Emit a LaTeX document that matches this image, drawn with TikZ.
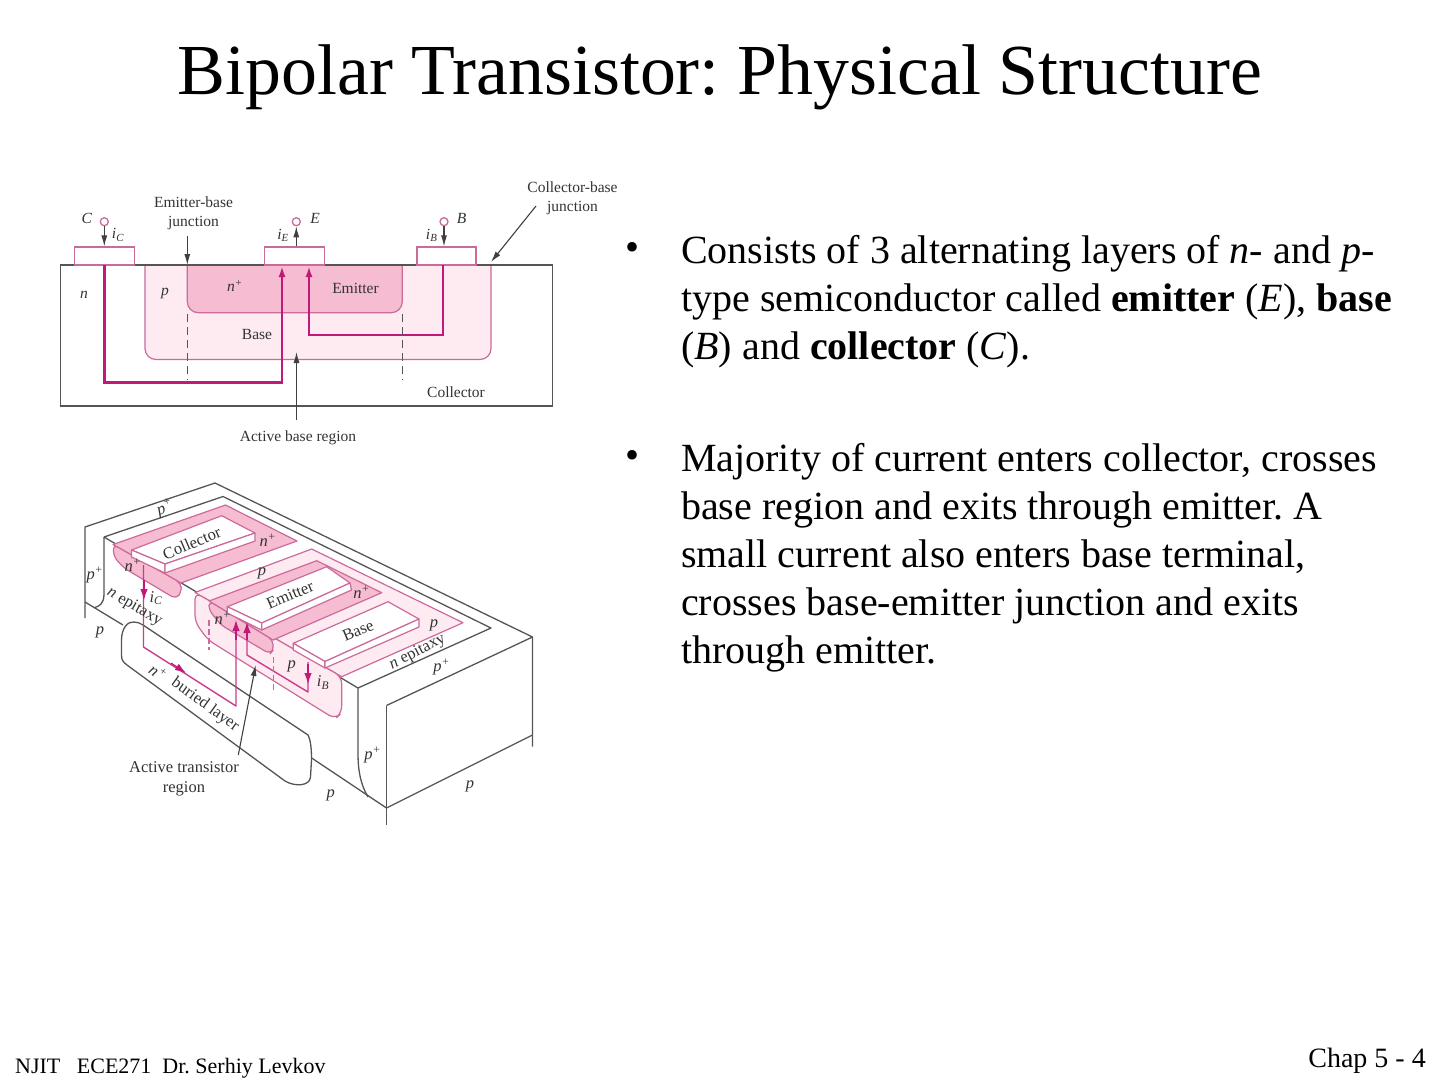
\documentclass[tikz,border=0pt]{standalone}
\usepackage{fontspec}
\setmainfont{Liberation Serif}
\usetikzlibrary{arrows.meta}
\frenchspacing
\definecolor{edgegray}{HTML}{555555}
\definecolor{labelgray}{HTML}{333333}
\definecolor{pinkline}{HTML}{CC6A9C}
\definecolor{curmag}{HTML}{C2187A}
\definecolor{nfill}{HTML}{F6BCD2}
\definecolor{pfill}{HTML}{FDEBF1}
\tikzset{
  wall/.style={draw=edgegray,line width=1.3pt},
  well/.style={draw=pinkline,line width=1.2pt,line join=round},
  pad/.style={draw=pinkline,line width=1.2pt,fill=white,minimum height=18pt,inner sep=0pt},
  term/.style={circle,draw=pinkline,line width=1.3pt,fill=white,minimum size=8pt,inner sep=0pt},
  lead/.style={draw=black!75,line width=1.1pt,-{Latex[length=11pt,width=6pt]}},
  curthick/.style={draw=curmag,line width=2.8pt,-{Latex[length=11pt,width=7pt]}},
  curthin/.style={draw=curmag!85,line width=1.4pt},
  curhead/.style={draw=curmag,line width=1.2pt,-{Latex[length=11pt,width=7.5pt]}},
  guide/.style={draw=edgegray,line width=1.1pt,dash pattern=on 8pt off 5pt},
  guidepink/.style={draw=pinkline,line width=1.2pt,dash pattern=on 6pt off 3pt},
  lab/.style={text=labelgray,font=\fontsize{15.5}{18}\selectfont,align=center,inner sep=0pt},
  lab3d/.style={text=labelgray,font=\fontsize{16.5}{19}\selectfont,align=center,inner sep=0pt},
  bodytext/.style={anchor=north west,align=left,inner sep=0pt,font=\fontsize{40}{48}\selectfont},
}
\begin{document}
\begin{tikzpicture}[x=1pt,y=-1pt]
  \useasboundingbox (0,0) rectangle (1440,1080);
  \node[font=\fontsize{71.8}{72}\selectfont] (title) at (720,77.5) {Bipolar Transistor: Physical Structure};

  % cross section
  \draw[wall] (60.5,265) rectangle (552.5,406);
  \filldraw[well,fill=pfill,rounded corners=11pt] (145,265) -- (145,359.5) -- (491,359.5) -- (491,265);
  \filldraw[well,fill=nfill,rounded corners=11pt] (187.3,265) -- (187.3,312.7) -- (402.3,312.7) -- (402.3,265);
  \draw[wall] (60.5,265) -- (552.5,265);

  \node[pad,minimum width=60pt] (padC) at (104.3,256) {};
  \node[pad,minimum width=60pt] (padE) at (294.2,256) {};
  \node[pad,minimum width=59pt] (padB) at (446.5,256) {};
  \node[term] (termC) at (104.3,221.7) {};
  \node[term] (termE) at (296.3,221.7) {};
  \node[term] (termB) at (444,221.7) {};
  \draw[lead] (termC) -- (termC |- padC.north);
  \draw[lead] (termE |- padE.north) -- (termE);
  \draw[lead] (termB) -- (termB |- padB.north);

  \draw[curthick] (104.5,265) -- (104.5,382.7) -- (282,382.7) -- (282,266);
  \draw[curthick,line width=2.2pt] (443.3,265) -- (443.3,335) -- (309,335) -- (309,266);
  \draw[guide] (187.3,314) -- (187.3,380);
  \draw[guide] (402.3,314) -- (402.3,380);

  \node[lab] (ebj) at (193.5,213) {Emitter-base\\[1pt]junction};
  \node[lab] (cbj) at (572.5,198) {Collector-base\\[1pt]junction};
  \node[lab] (abr) at (298,438) {Active base region};
  \coordinate (ebtip) at (187.3,265);
  \coordinate (cbtip) at (491,262);
  \coordinate (abtip) at (296.5,352);
  \draw[lead] (187.3,236) -- (ebtip);
  \draw[lead] (536,206) -- (cbtip);
  \draw[lead] (296.5,420) -- (abtip);

  \node[lab] (lC) at (86.7,218) {\itshape C};
  \node[lab] (lE) at (315,218) {\itshape E};
  \node[lab] (lB) at (461.7,218) {\itshape B};
  \node[lab] (liC) at (118,235) {\itshape i\textsubscript{C}};
  \node[lab] (liE) at (283,235) {\itshape i\textsubscript{E}};
  \node[lab] (liB) at (431.7,235) {\itshape i\textsubscript{B}};
  \node[lab] (ln) at (84,295) {\itshape n};
  \node[lab] (lp) at (165,293) {\itshape p};
  \node[lab] (lnp) at (235,286) {\itshape n\textsuperscript{+}};
  \node[lab] (lem) at (355.5,288) {Emitter};
  \node[lab] (lba) at (257,334) {Base};
  \node[lab] (lco) at (456,392) {Collector};

  % perspective view
  \coordinate (OL) at (85,527); \coordinate (OT) at (215,483); \coordinate (OR) at (532.5,637);
  \coordinate (IL) at (104,537); \coordinate (IT) at (223,496.5); \coordinate (IR) at (491,628);
  \coordinate (IF) at (358,688); \coordinate (FL) at (386.5,705.5);
  \coordinate (FB) at (386.5,808); \coordinate (FR) at (532.5,735);

  \draw[wall,line join=round] (85,618) -- (OL) -- (OT) -- (OR) -- (532.5,746.5);
  \draw[wall,line join=round] (IL) -- (IT) -- (IR) -- (IF) -- (358,753) .. controls (358,772) and (361,785) .. (368,797);
  \draw[wall] (OR) -- (FL);
  \draw[wall] (FL) -- (386.5,825);
  \draw[wall] (FB) -- (FR);
  \draw[wall] (IL) -- (104,594) .. controls (104,603) and (100,606) .. (95,607.5);
  \draw[wall] (85,602) -- (123,625);
  \draw[wall] (IL) -- (IF);
  \draw[wall] (311.7,758) -- (FB);

  % buried layer
  \draw[wall,line join=round] (143,625) -- (308,735) .. controls (311,741) and (311.5,750) .. (311.5,760)
    -- (310.5,777) .. controls (310,786) and (295,787) .. (285,781) -- (127,665)
    .. controls (123,662) and (121.5,660) .. (121.5,655) -- (121.5,640)
    .. controls (121.5,628) and (128,621) .. (134,622) .. controls (137,622) and (140,623) .. (143,625);

  % collector well
  \filldraw[well,fill=nfill] (113,544.5) -- (225.5,505) -- (297,541) -- (181,583) -- cycle;
  \filldraw[well,fill=nfill,rounded corners=5pt] (113,544.5) -- (114,557) -- (124,568) -- (176,599) -- (181.5,592) -- (181,583) -- cycle;
  \filldraw[well,fill=white] (131.5,550) -- (221.7,515.7) -- (255,533) -- (165,564) -- cycle;
  \filldraw[well,fill=white] (131.5,550) -- (131.5,557) -- (165,573) -- (165,564) -- cycle;
  \filldraw[well,fill=white] (165,564) -- (255,533) -- (255,541) -- (165,573) -- cycle;

  % base well
  \filldraw[well,fill=pfill] (195,592.5) -- (311.7,549) -- (463,622.7) -- (341.7,676.7) -- cycle;
  \filldraw[well,fill=pfill,rounded corners=7pt] (195,592.5) -- (195,622) -- (208,640) -- (335,719) -- (341.7,713) -- (341.7,676.7) -- cycle;

  % emitter well
  \filldraw[well,fill=nfill] (209,601) -- (316.7,560.7) -- (381.7,592.7) -- (273,640) -- cycle;
  \filldraw[well,fill=nfill,rounded corners=5pt] (209,601) -- (209,610) -- (221,625) -- (270,654) -- (273.3,650) -- (273,640) -- cycle;

  % contacts
  \filldraw[well,fill=white] (227.3,606.7) -- (326.7,566.7) -- (350,583) -- (261.7,623) -- cycle;
  \filldraw[well,fill=white] (227.3,606.7) -- (227.3,613) -- (261.7,630) -- (261.7,623) -- cycle;
  \filldraw[well,fill=white] (261.7,623) -- (350,583) -- (351.5,590) -- (261.7,630) -- cycle;
  \filldraw[well,fill=white] (293.3,643.3) -- (388,601.7) -- (419,619) -- (325,661.5) -- cycle;
  \filldraw[well,fill=white] (293.3,643.3) -- (293.3,650) -- (325,668) -- (325,661.5) -- cycle;
  \filldraw[well,fill=white] (325,661.5) -- (419,619) -- (419,627) -- (325,668) -- cycle;

  % currents
  \draw[curthin,line join=round] (143.5,565) -- (143.5,647) -- (236,706) -- (236,625);
  \draw[curthin,line join=round] (308,662) -- (308,692) -- (247,655) -- (247,625);
  \draw[curhead] (144,580) -- (144,600);
  \draw[curhead] (308,664) -- (308,684);
  \draw[curhead] (236,640) -- (236,620);
  \draw[curhead] (247,640) -- (247,622);
  \draw[curhead] (171,663) -- (186,673);
  \draw[guidepink] (209,620) -- (209,650);
  \draw[guidepink] (273.3,657) -- (273.3,690);

  \node[lab3d] (atr) at (184,778.5) {Active transistor\\[1pt]region};
  \coordinate (attip) at (255.7,665);
  \draw[lead] (238.3,755) -- (attip);

  \node[lab3d,rotate=23] (lcoll) at (191.7,543) {Collector};
  \node[lab3d,rotate=23] (lemit) at (290,595) {Emitter};
  \node[lab3d,rotate=23] (lbase) at (358,630.7) {Base};
  \node[lab3d,rotate=-30] (lepi1) at (134.5,607) {\itshape n \upshape epitaxy};
  \node[lab3d,rotate=27] (lepi2) at (417.5,652) {\itshape n \upshape epitaxy};
  \node[lab3d,rotate=-36] (lbur) at (205,705) {buried layer};
  \node[lab3d,rotate=-36] (lbn) at (158,672) {\itshape n\textsuperscript{+}};
  \node[lab3d,rotate=20] (pp1) at (165,508) {\itshape p\textsuperscript{+}};
  \node[lab3d] (pp2) at (95,575) {\itshape p\textsuperscript{+}};
  \node[lab3d] (pp3) at (441.7,667) {\itshape p\textsuperscript{+}};
  \node[lab3d] (pp4) at (372.7,755) {\itshape p\textsuperscript{+}};
  \node[lab3d] (nn1) at (133,565) {\itshape n\textsuperscript{+}};
  \node[lab3d] (nn2) at (268,540) {\itshape n\textsuperscript{+}};
  \node[lab3d] (nn3) at (223,618) {\itshape n\textsuperscript{+}};
  \node[lab3d] (nn4) at (361.7,592) {\itshape n\textsuperscript{+}};
  \node[lab3d] (p1) at (100,632) {\itshape p};
  \node[lab3d] (p2) at (262,573) {\itshape p};
  \node[lab3d] (p3) at (291.7,666) {\itshape p};
  \node[lab3d] (p4) at (434,625) {\itshape p};
  \node[lab3d] (p5) at (330.7,795) {\itshape p};
  \node[lab3d] (p6) at (470,786.7) {\itshape p};
  \node[lab3d] (cur1) at (156,598) {\itshape i\textsubscript{C}};
  \node[lab3d] (cur2) at (323,682.7) {\itshape i\textsubscript{B}};

  % text column
  \node[font=\fontsize{40}{48}\selectfont] (bul1) at (632.5,251) {•};
  \node[font=\fontsize{40}{48}\selectfont] (bul2) at (632.5,459) {•};
  \node[bodytext] (par1) at (681,235) {Consists of 3 alternating layers of \textit{n}- and \textit{p}-\\
    type semiconductor called \textbf{emitter} (\textit{E}), \textbf{base}\\
    (\textit{B}) and \textbf{collector} (\textit{C}).};
  \node[bodytext] (par2) at (681,443) {Majority of current enters collector, crosses\\
    base region and exits through emitter. A\\
    small current also enters base terminal,\\
    crosses base-emitter junction and exits\\
    through emitter.};

  \node[anchor=base west,font=\fontsize{22}{24}\selectfont,inner sep=0pt] (foot) at (15,1073) {NJIT\ \ \ ECE271\ \ Dr. Serhiy Levkov};
  \node[anchor=base east,font=\fontsize{28}{30}\selectfont,inner sep=0pt] (chap) at (1426,1067) {Chap 5 - 4};
\end{tikzpicture}
\end{document}
